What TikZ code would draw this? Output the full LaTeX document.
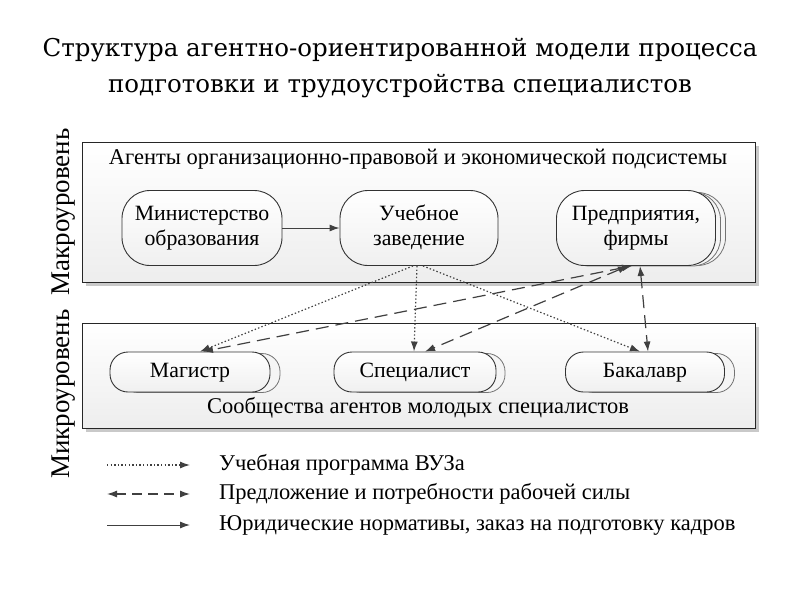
\documentclass[tikz,border=0pt]{standalone}
\usepackage{fontspec}
\setmainfont{Liberation Serif}
\newfontfamily\titlefont{DejaVu Serif}
\usetikzlibrary{arrows.meta,shadows}
\begin{document}
\begin{tikzpicture}[x=1pt,y=-1pt,
  panel/.style={draw=black!85, line width=1pt, top color=white, bottom color=gray!14,
    drop shadow={shadow xshift=3pt,shadow yshift=-3pt,fill=gray!70,opacity=0.6},
    inner sep=0pt, anchor=north west},
  agent/.style={draw=black!80, line width=0.9pt, rounded corners=#1, top color=white,
    bottom color=gray!12, inner sep=0pt, align=center,
    font=\fontsize{21.8}{25}\selectfont},
  agentback/.style={draw=black!55, line width=0.8pt, rounded corners=#1, fill=gray!8, inner sep=0pt},
  conn/.style={draw=black!75, line width=1.2pt},
  tip/.style={-{Latex[length=10pt,width=7pt]}},
  bitip/.style={{Latex[length=10pt,width=7pt]}-{Latex[length=10pt,width=7pt]}},
  vuz/.style={conn, tip, dash pattern=on 1.4pt off 2.2pt},
  labour/.style={conn, bitip, dash pattern=on 13pt off 7pt},
  law/.style={conn, line width=1pt, tip},
  lbl/.style={font=\fontsize{22.5}{26}\selectfont, inner sep=0pt},
  side/.style={font=\fontsize{27}{30}\selectfont, inner sep=0pt, rotate=90},
  leg/.style={font=\fontsize{22.5}{26}\selectfont, inner sep=0pt, anchor=west}
]
\useasboundingbox[fill=white] (0,0) rectangle (800,600);

% title
\node[font=\titlefont\fontsize{24.5}{28}\selectfont, inner sep=0pt] (t1) at (400,50)
  {Структура агентно-ориентированной модели процесса};
\node[font=\titlefont\fontsize{24.5}{28}\selectfont, inner sep=0pt] (t2) at (400,86)
  {подготовки и трудоустройства специалистов};

% panels
\node[panel, minimum width=673, minimum height=140] (macro) at (82,142) {};
\node[panel, minimum width=673, minimum height=105] (micro) at (82,323) {};

\node[lbl] (macrohdr) at (418,159) {Агенты организационно-правовой и экономической подсистемы};
\node[lbl] (microhdr) at (418,408) {Сообщества агентов молодых специалистов};

% vertical labels
\node[side] (macrolbl) at (64,212) {Макроуровень};
\node[side] (microlbl) at (64,394) {Микроуровень};

% macro agents
\node[agent=28, minimum width=160, minimum height=75] (min) at (202,228) {Министерство\strut\\образования\strut};
\node[agent=28, minimum width=158, minimum height=75] (uch) at (419,228) {Учебное\strut\\заведение\strut};
\node[agentback=28, minimum width=159, minimum height=73] (predB2) at (646,229) {};
\node[agentback=28, minimum width=159, minimum height=74] (predB1) at (641,229) {};
\node[agent=28, minimum width=159, minimum height=75] (pred) at (636,228) {Предприятия,\strut\\фирмы\strut};

% micro agents
\node[agentback=18, minimum width=160, minimum height=39] (magB) at (200,373) {};
\node[agent=18, minimum width=160, minimum height=40] (mag) at (190,372) {Магистр\strut};
\node[agentback=18, minimum width=162, minimum height=39] (speB) at (424,373) {};
\node[agent=18, minimum width=162, minimum height=40] (spe) at (415,372) {Специалист\strut};
\node[agentback=18, minimum width=159, minimum height=39] (bakB) at (655,373) {};
\node[agent=18, minimum width=159, minimum height=40] (bak) at (645,372) {Бакалавр\strut};

% connectors
\draw[law] (min) -- (uch);
\draw[vuz] ([xshift=-6pt]uch.south) -- ([xshift=10pt]mag.north);
\draw[vuz] ([xshift=-2pt]uch.south) -- ([xshift=-1pt]spe.north);
\draw[vuz] ([xshift=4pt]uch.south) -- ([xshift=-5pt]bak.north);
\draw[labour] ([xshift=-4pt]pred.south) -- ([xshift=13pt]mag.north);
\draw[labour] ([xshift=-8pt]pred.south) -- ([xshift=10pt]spe.north);
\draw[labour] ([xshift=4pt]pred.south) -- ([xshift=3pt]bak.north);

% legend
\coordinate (l1a) at (107,465); \coordinate (l1b) at (190,465);
\coordinate (l2a) at (107,494); \coordinate (l2b) at (190,494);
\coordinate (l3a) at (107,525); \coordinate (l3b) at (190,525);
\draw[vuz] (l1a) -- (l1b);
\draw[conn, bitip, dash pattern=on 10pt off 6pt] (l2a) -- (l2b);
\draw[law] (l3a) -- (l3b);
\node[leg] (leg1) at (219,465) {Учебная программа ВУЗа};
\node[leg] (leg2) at (219,494) {Предложение и потребности рабочей силы};
\node[leg] (leg3) at (219,525) {Юридические нормативы, заказ на подготовку кадров};
\end{tikzpicture}
\end{document}
